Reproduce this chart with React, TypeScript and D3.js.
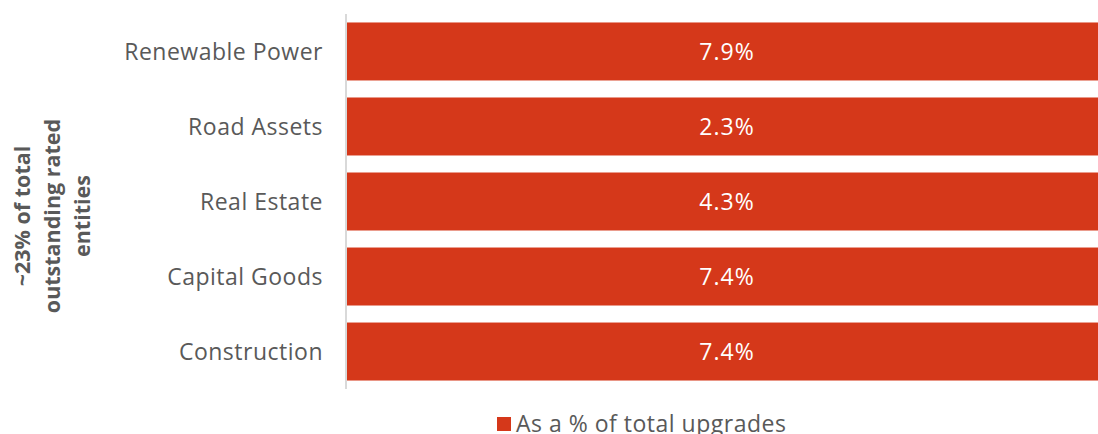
import React from "react";
import * as d3 from "d3";

const categories = ["Renewable Power", "Road Assets", "Real Estate", "Capital Goods", "Construction"];
const values = [7.9, 2.3, 4.3, 7.4, 7.4];
const seriesName = "As a % of total upgrades";
const axisTitleLines = ["~23% of total", "outstanding rated", "entities"];

const W = 1098;
const H = 434;
const FONT = "'Open Sans', 'Noto Sans', sans-serif";
const BAR = "#D5381A";
const TEXT = "#595959";

export default function App() {
  const left = 347;
  const right = 1107;
  const y = d3.scaleBand<string>().domain(categories).range([14, 389]).paddingInner(0.227).paddingOuter(0.113);
  // each bar is shown as a 100% share of itself
  const x = d3.scaleLinear().domain([0, 1]).range([left, right]);
  return (
    <svg width={W} height={H} style={{ position: "absolute", left: 0, top: 0, display: "block" }} fontFamily={FONT}>
      {categories.map((c, i) => {
        const y0 = y(c)!;
        const bw = y.bandwidth();
        const share = values[i] / values[i];
        return (
          <g key={c}>
            <rect x={x(0)} y={y0} width={x(share) - x(0)} height={bw} fill={BAR} />
            <text x={(x(0) + x(share)) / 2} y={y0 + bw / 2} dy="0.35em" textAnchor="middle" fill="#fff" fontSize={23} letterSpacing={1}>
              {values[i].toFixed(1)}%
            </text>
            <text x={323} y={y0 + bw / 2} dy="0.35em" textAnchor="end" fill={TEXT} fontSize={23} letterSpacing={0.5}>
              {c}
            </text>
          </g>
        );
      })}
      <line x1={346} x2={346} y1={14} y2={389} stroke="#d9d9d9" strokeWidth={2} />
      <g transform="translate(52,216) rotate(-90)">
        {axisTitleLines.map((t, i) => (
          <text key={t} x={0} y={(i - 1) * 30} dy="0.35em" textAnchor="middle" fill={TEXT} fontSize={21.5} fontWeight="bold">
            {t}
          </text>
        ))}
      </g>
      <g>
        <rect x={497} y={417} width={14} height={14} fill={BAR} />
        <text x={516} y={432} fill={TEXT} fontSize={23} letterSpacing={0.5}>
          {seriesName}
        </text>
      </g>
    </svg>
  );
}
